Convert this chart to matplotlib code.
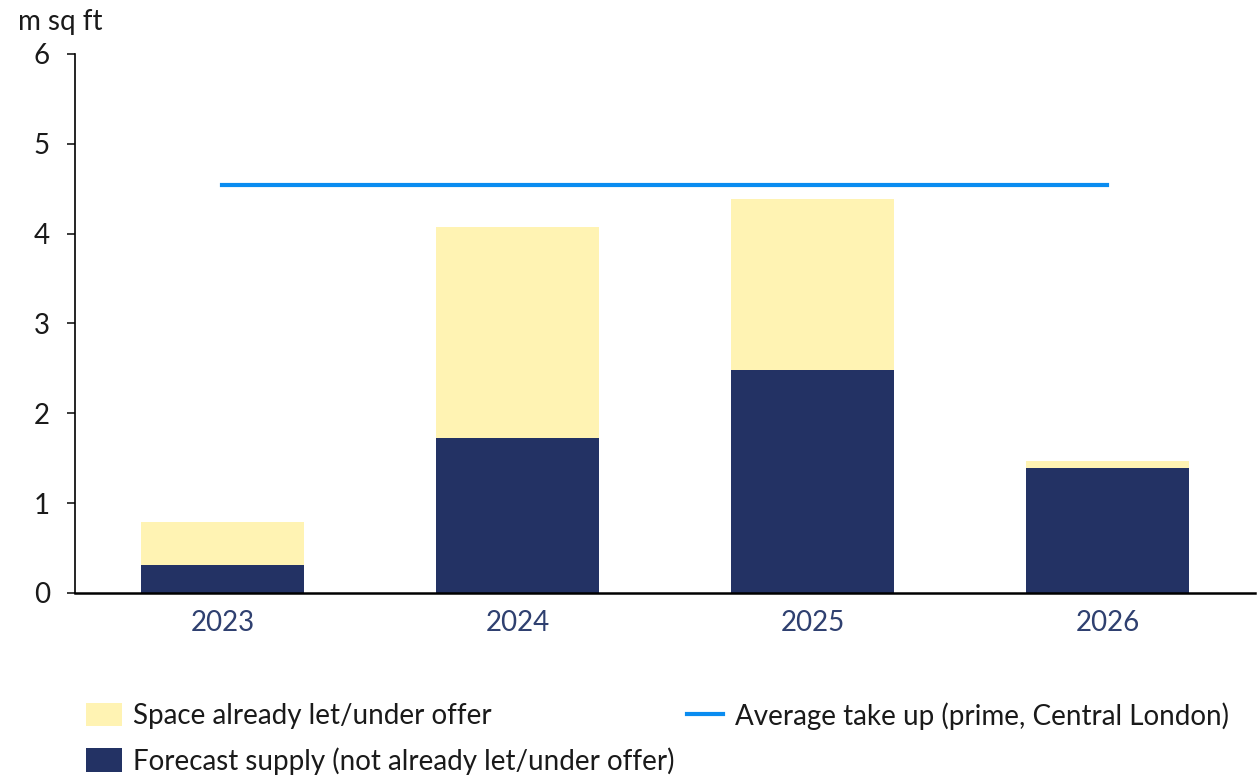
import matplotlib.pyplot as plt
import numpy as np
from matplotlib.patches import Patch
from matplotlib.lines import Line2D

plt.rcParams['font.family'] = ['Lato', 'DejaVu Sans']

years = ['2023', '2024', '2025', '2026']
forecast_supply = [0.31, 1.73, 2.48, 1.39]   # not already let/under offer
already_let = [0.48, 2.34, 1.91, 0.08]       # let / under offer
avg_take_up = 4.54

navy = '#233264'
yellow = '#FFF3B3'
blue = '#0A8CF0'
fs = 20

fig = plt.figure(figsize=(12.58, 7.78), dpi=100)
ax = fig.add_axes([0.0596, 0.2378, 0.938, 0.6928])

x = np.arange(len(years))
ax.bar(x, forecast_supply, width=0.55, color=navy, edgecolor='none', zorder=2)
ax.bar(x, already_let, width=0.55, bottom=forecast_supply, color=yellow, edgecolor='none', zorder=2)
ax.plot([x[0], x[-1]], [avg_take_up, avg_take_up], color=blue, lw=3, zorder=3)

ax.set_xlim(-0.5, 3.5)
ax.set_ylim(0, 6)
ax.set_xticks(x)
ax.set_xticklabels(years, fontsize=fs, color='#2F4070')
ax.tick_params(axis='x', length=0, pad=12)
ax.set_yticks(range(7))
ax.tick_params(axis='y', labelsize=fs, length=6, width=1.2, pad=12, colors='#1a1a1a')
ax.spines[['top', 'right']].set_visible(False)
ax.spines['left'].set_linewidth(1.2)
ax.spines['bottom'].set_linewidth(1.8)

fig.text(0.014, 0.972, 'm sq ft', fontsize=fs, va='center', ha='left', color='#1a1a1a')

h1 = Patch(facecolor=yellow, edgecolor='none')
h2 = Patch(facecolor=navy, edgecolor='none')
h3 = Line2D([], [], color=blue, lw=3)
leg_kw = dict(loc='upper left', frameon=False, fontsize=fs, labelcolor='#1a1a1a',
              handlelength=1.3, handleheight=0.95, handletextpad=0.42, labelspacing=0.65,
              borderaxespad=0, borderpad=0)
fig.legend([h1, h2], ['Space already let/under offer', 'Forecast supply (not already let/under offer)'],
           bbox_to_anchor=(0.068, 0.097), **leg_kw)
fig.legend([h3], ['Average take up (prime, Central London)'],
           bbox_to_anchor=(0.546, 0.097), **leg_kw)

fig.savefig('out.png', dpi=100)
